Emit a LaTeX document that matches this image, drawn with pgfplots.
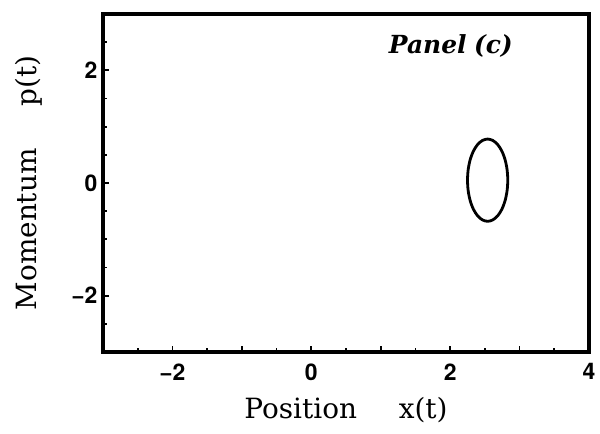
\documentclass[border=0pt]{standalone}
\usepackage{fontspec}
\setsansfont{TeX Gyre Heros}
\newfontfamily\labelfont{DejaVu Serif}
\usepackage{pgfplots}
\pgfplotsset{compat=1.18}
\begin{document}
\begin{tikzpicture}
\begin{axis}[
  scale only axis, width=486bp, height=338bp,
  xmin=-3, xmax=4, ymin=-3, ymax=3,
  xtick={-3,-2,...,4}, xticklabels={,−2,,0,,2,,4},
  minor xtick={-2.5,-1.5,...,3.5},
  ytick={-2,0,2}, yticklabels={−2,0,2},
  minor ytick={-3,-2.5,...,3},
  tick align=inside, tick pos=left,
  major tick length=6bp, minor tick length=4bp,
  every tick/.style={line width=1.8bp, black},
  ticklabel style={font=\sffamily\bfseries\fontsize{23}{23}\selectfont},
  xticklabel style={yshift=-8bp},
  yticklabel style={xshift=-2bp},
  xlabel={Position\hspace{1.5em}x(t)},
  ylabel={Momentum\hspace{1.5em}p(t)},
  label style={font=\labelfont\fontsize{28}{28}\selectfont},
  xlabel style={at={(rel axis cs:0.5,0)}, yshift=-58bp, anchor=center},
  ylabel style={at={(rel axis cs:0,0.5)}, yshift=74bp, anchor=center},
  clip=false,
]
\draw[line width=3.2bp, black] (rel axis cs:0,0) rectangle (rel axis cs:1,1);
\addplot[line width=2.8bp, black, smooth cycle] coordinates {
(2.830,0.050) (2.820,0.239) (2.791,0.415) (2.745,0.566) (2.685,0.682) (2.615,0.755)
(2.540,0.780) (2.465,0.755) (2.395,0.682) (2.335,0.566) (2.289,0.415) (2.260,0.239)
(2.250,0.050) (2.260,-0.139) (2.289,-0.315) (2.335,-0.466) (2.395,-0.582) (2.465,-0.655)
(2.540,-0.680) (2.615,-0.655) (2.685,-0.582) (2.745,-0.466) (2.791,-0.315) (2.820,-0.139)
};
\node[font=\labelfont\bfseries\itshape\fontsize{25}{25}\selectfont] at (axis cs:2.01,2.44) {Panel\hspace{0.3em}(c)};
\end{axis}
\pgfresetboundingbox
\path[use as bounding box] ([xshift=-103bp,yshift=-82bp]current axis.south west) rectangle ([xshift=11bp,yshift=14bp]current axis.north east);
\end{tikzpicture}
\end{document}
